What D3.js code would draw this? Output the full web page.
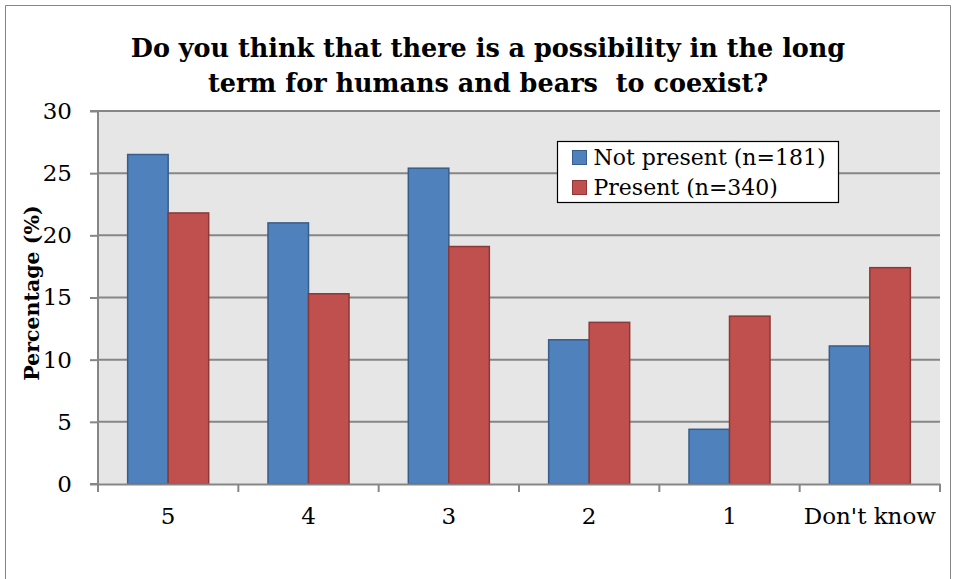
<!DOCTYPE html>
<html>
<head>
<meta charset="utf-8">
<script src="https://cdn.jsdelivr.net/npm/d3@7"></script>
<style>
body { margin: 0; background: #fff; }
svg { display: block; }
text { font-family: "DejaVu Serif", serif; }
</style>
</head>
<body>
<svg id="chart" width="955" height="579"></svg>
<script>
const categories = ["5", "4", "3", "2", "1", "Don't know"];
const seriesNames = ["Not present (n=181)", "Present (n=340)"];
const notPresent = [26.5, 21.0, 25.4, 11.6, 4.4, 11.1];
const present = [21.8, 15.3, 19.1, 13.0, 13.5, 17.4];
const yTicks = [0, 5, 10, 15, 20, 25, 30];
const titleLines = ["Do you think that there is a possibility in the long", "term for humans and bears  to coexist?"];
const yLabel = "Percentage (%)";

const fills = ["#4F81BD", "#C0504D"];
const strokes = ["#385D8A", "#8C3836"];

const svg = d3.select("#chart");
const W = 955, H = 579;
const m = { left: 98, right: 15, top: 111, bottom: 95 };
const x0 = m.left, x1 = W - m.right, y0 = H - m.bottom, y1 = m.top;

svg.append("path").attr("d", `M5.5,${H} V5.5 H950.5 V${H}`).attr("fill", "none").attr("stroke", "#868686").attr("stroke-width", 1);

const x = d3.scaleBand().domain(categories).range([x0, x1]).paddingInner(0).paddingOuter(0);
const xs = d3.scaleBand().domain([0, 1]).range([0, x.bandwidth()]).paddingInner(0).paddingOuter(0.732);
const y = d3.scaleLinear().domain([0, 30]).range([y0, y1]);

svg.append("rect").attr("x", x0).attr("y", y1).attr("width", x1 - x0).attr("height", y0 - y1).attr("fill", "#E6E6E6");

svg.append("g").selectAll("line").data(yTicks.filter(d => d > 0)).join("line")
  .attr("x1", x0).attr("x2", x1).attr("y1", d => y(d)).attr("y2", d => y(d))
  .attr("stroke", "#868686").attr("stroke-width", 2);

const data = categories.map((c, i) => ({ c, v: [notPresent[i], present[i]] }));
const g = svg.append("g");
data.forEach(d => {
  d.v.forEach((v, s) => {
    g.append("rect")
      .attr("x", x(d.c) + xs(s))
      .attr("y", y(v))
      .attr("width", xs.bandwidth())
      .attr("height", y(0) - y(v))
      .attr("fill", fills[s]).attr("stroke", strokes[s]).attr("stroke-width", 1.5);
  });
});

const yAxis = d3.axisLeft(y).tickValues(yTicks).tickSize(8).tickPadding(18);
const ya = svg.append("g").attr("transform", `translate(${x0},0)`).call(yAxis);
ya.select(".domain").attr("stroke", "#868686").attr("stroke-width", 2).attr("d", `M-8,${y1}H0V${y0}H-8`);
ya.selectAll(".tick line").attr("stroke", "#868686").attr("stroke-width", 2);
ya.selectAll(".tick text").attr("font-size", 23).attr("fill", "#000").style("font-family", '"DejaVu Serif", serif');

const xAxis = d3.axisBottom(x).tickSize(0).tickPadding(24);
const xa = svg.append("g").attr("transform", `translate(0,${y0})`).call(xAxis);
xa.select(".domain").attr("stroke", "#868686").attr("stroke-width", 2);
xa.selectAll(".tick text").attr("font-size", 23).attr("fill", "#000").style("font-family", '"DejaVu Serif", serif');
const edges = categories.map(c => x(c)).concat([x1]);
svg.append("g").selectAll("line").data(edges).join("line")
  .attr("x1", d => d).attr("x2", d => d).attr("y1", y0).attr("y2", y0 + 8)
  .attr("stroke", "#868686").attr("stroke-width", 2);

const t = svg.append("text").attr("text-anchor", "middle").attr("font-weight", "bold").attr("font-size", 25.5).attr("fill", "#000");
titleLines.forEach((l, i) => {
  t.append("tspan").attr("x", 488).attr("y", 57 + i * 35).style("white-space", "pre").text(l);
});

svg.append("text").attr("transform", `translate(39,293) rotate(-90)`)
  .attr("text-anchor", "middle").attr("font-weight", "bold").attr("font-size", 20.5).attr("fill", "#000").text(yLabel);

const lg = svg.append("g").attr("transform", "translate(557.5,141.5)");
lg.append("rect").attr("width", 281).attr("height", 61).attr("fill", "#fff").attr("stroke", "#000").attr("stroke-width", 1.2);
seriesNames.forEach((n, i) => {
  lg.append("rect").attr("x", 15).attr("y", 9 + i * 30).attr("width", 14).attr("height", 14)
    .attr("fill", fills[i]).attr("stroke", strokes[i]).attr("stroke-width", 1);
  lg.append("text").attr("x", 36).attr("y", 23.5 + i * 30).attr("font-size", 22).attr("fill", "#000").text(n);
});
</script>
</body>
</html>
